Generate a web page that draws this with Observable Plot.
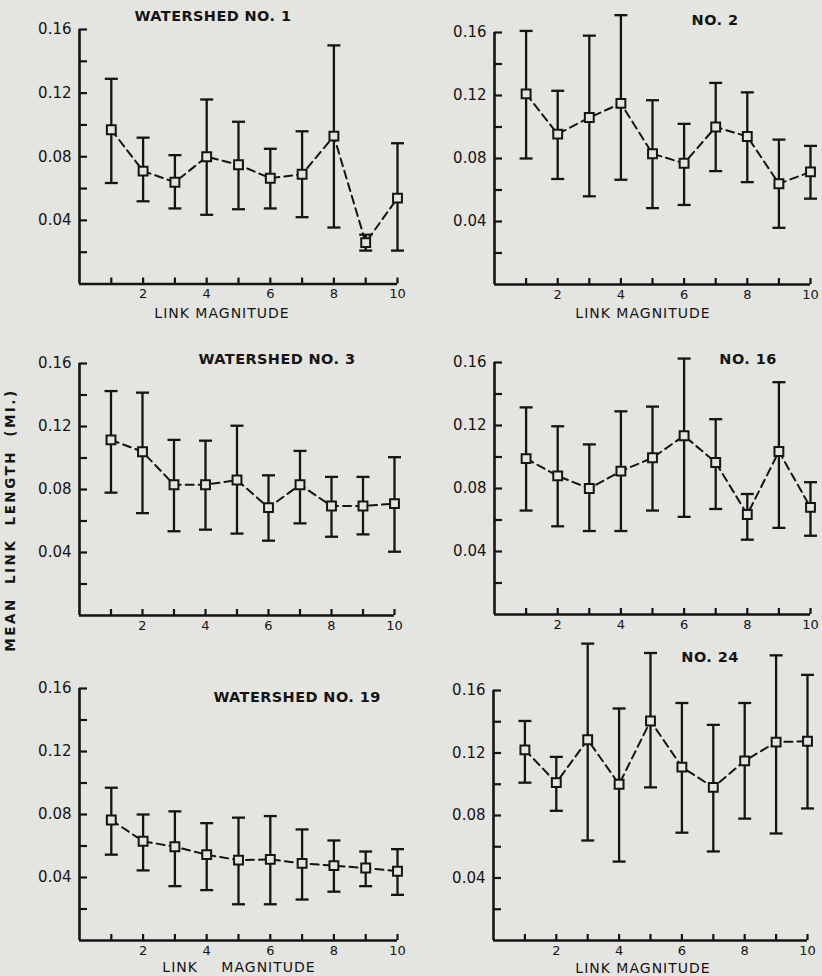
<!DOCTYPE html>
<html><head><meta charset="utf-8">
<script src="https://cdn.jsdelivr.net/npm/d3@7"></script>
<script src="https://cdn.jsdelivr.net/npm/@observablehq/plot@0.6"></script>
<style>
html,body{margin:0;padding:0;background:#e4e4e1;overflow:hidden}
#page{position:relative;width:822px;height:976px;font-family:"DejaVu Sans",sans-serif;color:#141414;overflow:hidden}
.lbl{position:absolute;transform:translate(-50%,-50%);white-space:pre;line-height:1}
.title{font-weight:bold;font-size:14.5px;letter-spacing:0.4px}
.xt{font-size:14px;letter-spacing:1px}
.yt{font-weight:bold;font-size:13.5px;letter-spacing:2.5px;word-spacing:6px;transform:translate(-50%,-50%) rotate(-90deg)}
</style></head><body><div id="page"></div>
<script>
// ---- data ----
const magnitude = [1, 2, 3, 4, 5, 6, 7, 8, 9, 10];

const ws1Mean = [0.097, 0.071, 0.064, 0.080, 0.075, 0.0665, 0.069, 0.093, 0.026, 0.054];
const ws1High = [0.129, 0.092, 0.081, 0.116, 0.102, 0.085, 0.096, 0.150, 0.031, 0.0885];
const ws1Low  = [0.0635, 0.052, 0.0475, 0.0435, 0.047, 0.0475, 0.042, 0.0355, 0.021, 0.021];

const ws2Mean = [0.121, 0.0955, 0.106, 0.115, 0.083, 0.077, 0.100, 0.094, 0.064, 0.0715];
const ws2High = [0.161, 0.123, 0.158, 0.171, 0.117, 0.102, 0.128, 0.122, 0.092, 0.088];
const ws2Low  = [0.080, 0.067, 0.056, 0.0665, 0.0485, 0.0505, 0.072, 0.065, 0.036, 0.0545];

const ws3Mean = [0.1115, 0.104, 0.083, 0.083, 0.086, 0.0685, 0.083, 0.0695, 0.0695, 0.071];
const ws3High = [0.1425, 0.1415, 0.1115, 0.111, 0.1205, 0.089, 0.1045, 0.088, 0.088, 0.1005];
const ws3Low  = [0.078, 0.065, 0.0535, 0.0545, 0.052, 0.0475, 0.0585, 0.050, 0.0515, 0.0405];

const ws16Mean = [0.099, 0.088, 0.080, 0.091, 0.0995, 0.1135, 0.0965, 0.0635, 0.1035, 0.068];
const ws16High = [0.1315, 0.1195, 0.108, 0.129, 0.132, 0.1625, 0.124, 0.0765, 0.1475, 0.084];
const ws16Low  = [0.066, 0.056, 0.053, 0.053, 0.066, 0.062, 0.067, 0.0475, 0.055, 0.050];

const ws19Mean = [0.0765, 0.063, 0.0595, 0.0545, 0.051, 0.0515, 0.049, 0.0475, 0.046, 0.044];
const ws19High = [0.097, 0.080, 0.082, 0.0745, 0.078, 0.079, 0.0705, 0.0635, 0.0565, 0.058];
const ws19Low  = [0.0545, 0.0445, 0.0345, 0.032, 0.023, 0.023, 0.026, 0.031, 0.0345, 0.029];

const ws24Mean = [0.122, 0.101, 0.1285, 0.100, 0.1405, 0.111, 0.098, 0.115, 0.127, 0.1275];
const ws24High = [0.1405, 0.1175, 0.190, 0.1485, 0.184, 0.152, 0.138, 0.152, 0.1825, 0.170];
const ws24Low  = [0.101, 0.083, 0.064, 0.0505, 0.098, 0.069, 0.057, 0.078, 0.0685, 0.0845];

const panelTitles = ["WATERSHED NO. 1", "NO. 2", "WATERSHED NO. 3", "NO. 16", "WATERSHED NO. 19", "NO. 24"];
const yTickLabels = [0.04, 0.08, 0.12, 0.16];
const yMinorTicks = [0.02, 0.04, 0.06, 0.08, 0.10, 0.12, 0.14, 0.16];
const xTickLabels = [2, 4, 6, 8, 10];
const xMinorTicks = [1, 2, 3, 4, 5, 6, 7, 8, 9, 10];
const xTitle = "LINK MAGNITUDE";
const yTitle = "MEAN LINK LENGTH (MI.)";

// ---- layout ----
const ink = "#141414", bg = "#e4e4e1";
const page = document.getElementById("page");
const series = [
  [ws1Mean, ws1Low, ws1High], [ws2Mean, ws2Low, ws2High],
  [ws3Mean, ws3Low, ws3High], [ws16Mean, ws16Low, ws16High],
  [ws19Mean, ws19Low, ws19High], [ws24Mean, ws24Low, ws24High]
];
const geom = [
  {x0: 79, x10: 397, y0: 283.5, y16: 29, tx: 213, ty: 16, lx: 222, ly: 313},
  {x0: 494, x10: 810, y0: 284, y16: 32, tx: 715, ty: 20, lx: 643, ly: 313},
  {x0: 79, x10: 394, y0: 615, y16: 363, tx: 277, ty: 359},
  {x0: 494, x10: 810, y0: 614, y16: 362, tx: 748, ty: 359},
  {x0: 79, x10: 397, y0: 940, y16: 688, tx: 297, ty: 697, lx: 239, ly: 967, wide: true},
  {x0: 493, x10: 807, y0: 940, y16: 690, tx: 710, ty: 657, lx: 643, ly: 968}
];

const cap = {draw(ctx, size) { const r = Math.sqrt(size / Math.PI); ctx.moveTo(-r, 0); ctx.lineTo(r, 0); }};

function label(text, x, y, cls) {
  const d = document.createElement("div");
  d.className = "lbl " + cls;
  d.textContent = text;
  d.style.left = x + "px"; d.style.top = y + "px";
  page.appendChild(d);
  return d;
}

series.forEach(([mean, lo, hi], i) => {
  const g = geom[i];
  const rows = magnitude.map((m, j) => ({m, mean: mean[j], lo: lo[j], hi: hi[j]}));
  const mL = 50, mR = 20, mT = 60, mB = 30;
  const fw = g.x10 - g.x0, fh = g.y0 - g.y16;
  const svg = Plot.plot({
    width: mL + fw + mR, height: mT + fh + mB,
    marginLeft: mL, marginRight: mR, marginTop: mT, marginBottom: mB,
    x: {domain: [0, 10], axis: null},
    y: {domain: [0, 0.16], axis: null},
    style: {background: "transparent", overflow: "visible", fontFamily: "DejaVu Sans, sans-serif"},
    marks: [
      Plot.ruleX([0], {y1: 0, y2: 0.16, stroke: ink, strokeWidth: 2.6}),
      Plot.ruleY([0], {x1: 0, x2: 10, stroke: ink, strokeWidth: 2.6}),
      Plot.tickY(yMinorTicks, {y: d => d, insetRight: fw - 8, stroke: ink, strokeWidth: 2.2}),
      Plot.tickX(xMinorTicks, {x: d => d, insetTop: fh - 6, stroke: ink, strokeWidth: 2.2}),
      Plot.text(yTickLabels, {x: 0, y: d => d, text: d => d.toFixed(2), textAnchor: "end", dx: -8, fontSize: 15, fill: ink}),
      Plot.text(xTickLabels, {x: d => d, y: 0, text: d => String(d), dy: 10, fontSize: 13, fill: ink}),
      Plot.ruleX(rows, {x: "m", y1: "lo", y2: "hi", stroke: ink, strokeWidth: 2.3}),
      Plot.dot(rows, {x: "m", y: "hi", symbol: cap, r: 6.5, stroke: ink, fill: "none", strokeWidth: 2.3}),
      Plot.dot(rows, {x: "m", y: "lo", symbol: cap, r: 6.5, stroke: ink, fill: "none", strokeWidth: 2.3}),
      Plot.line(rows, {x: "m", y: "mean", stroke: ink, strokeWidth: 2, strokeDasharray: "8,5"}),
      Plot.dot(rows, {x: "m", y: "mean", symbol: "square", r: 5, fill: bg, stroke: ink, strokeWidth: 2})
    ]
  });
  svg.style.position = "absolute";
  svg.style.left = (g.x0 - mL) + "px";
  svg.style.top = (g.y16 - mT) + "px";
  page.appendChild(svg);
  label(panelTitles[i], g.tx, g.ty, "title");
  if (g.lx) {
    const l = label(xTitle, g.lx, g.ly, "xt");
    if (g.wide) l.style.wordSpacing = "18px";
  }
});
label(yTitle, 11, 520, "yt");
</script></body></html>
